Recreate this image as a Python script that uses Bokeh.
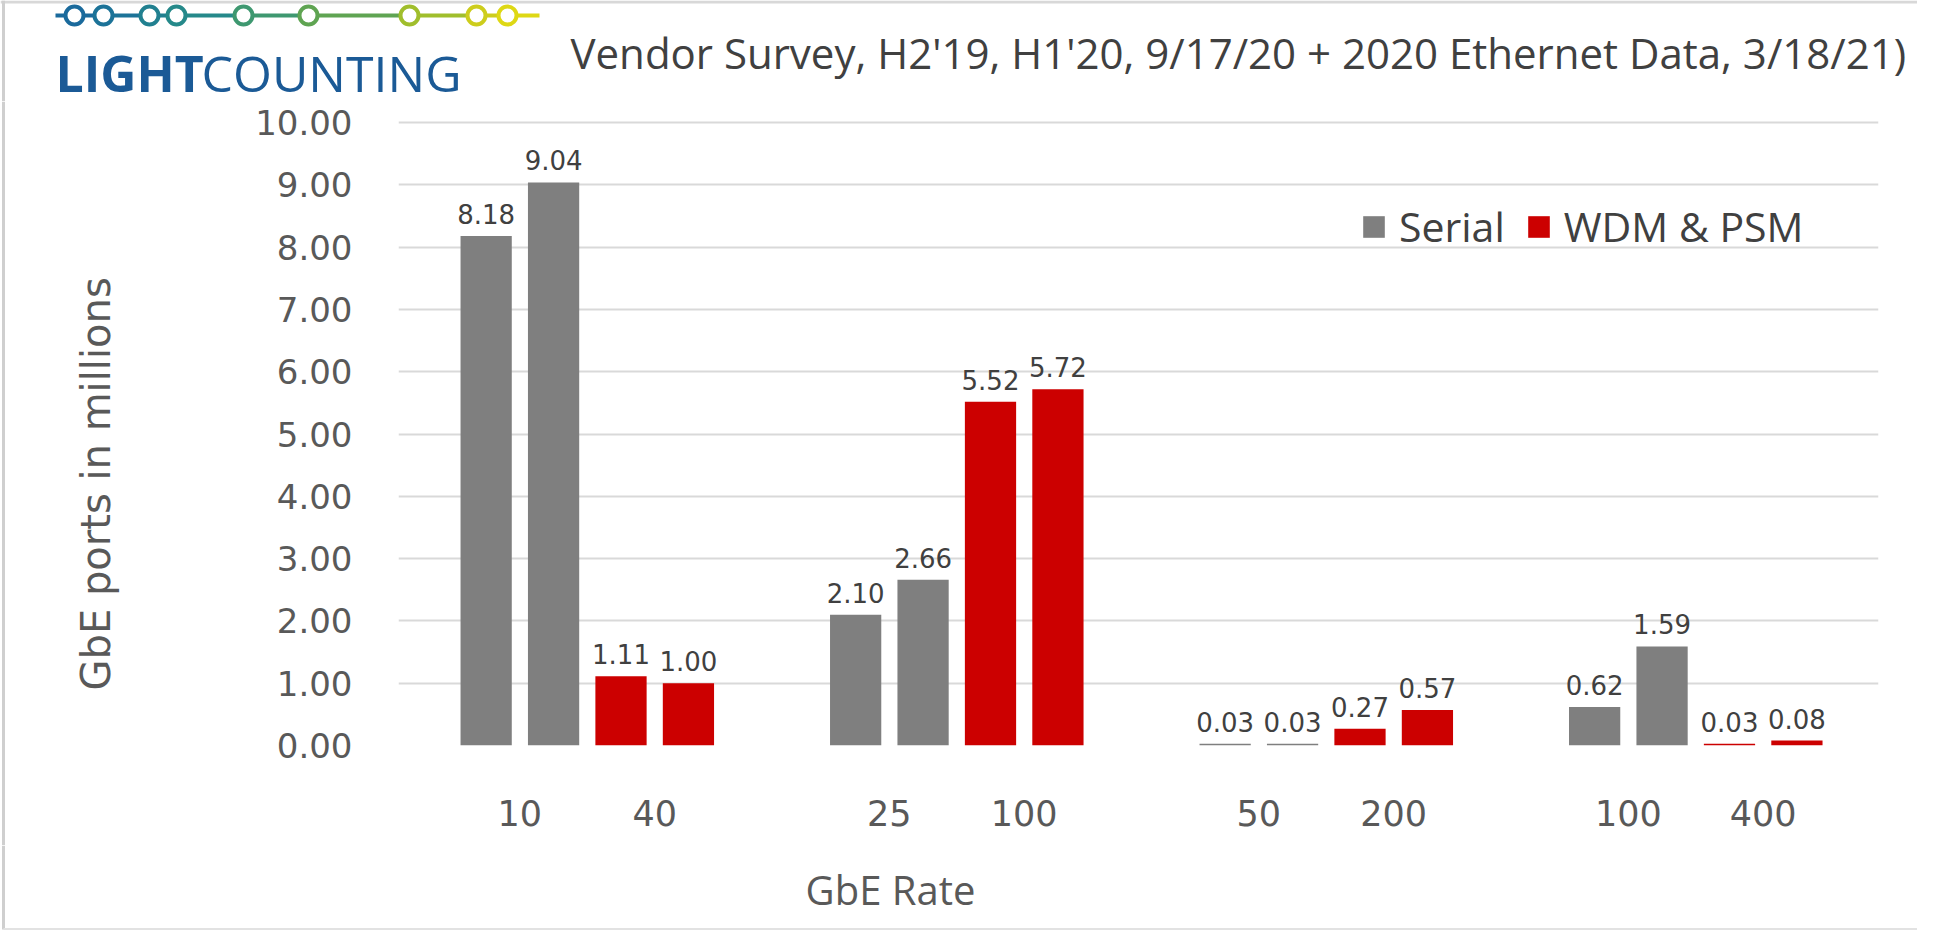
import math
from bokeh.plotting import figure
from bokeh.layouts import column, row
from bokeh.models import (ColumnDataSource, Range1d, FixedTicker, NumeralTickFormatter,
                          Legend, LegendItem, Plot)
from bokeh.core.properties import value
from bokeh.embed import file_html
from bokeh.resources import INLINE

# ---------------- data ----------------
rates = ["10", "40", "25", "100", "50", "200", "100", "400"]
rate_series = ["Serial", "WDM & PSM", "Serial", "WDM & PSM",
               "Serial", "WDM & PSM", "Serial", "WDM & PSM"]
first_bar = [8.18, 1.11, 2.10, 5.52, 0.03, 0.27, 0.62, 0.03]
second_bar = [9.04, 1.00, 2.66, 5.72, 0.03, 0.57, 1.59, 0.08]
series_names = ["Serial", "WDM & PSM"]
series_colors = ["#7F7F7F", "#CC0000"]
y_tick_values = [0, 1, 2, 3, 4, 5, 6, 7, 8, 9, 10]
chart_title = "Vendor Survey,  H2'19, H1'20, 9/17/20 + 2020 Ethernet Data, 3/18/21)"
y_title = "GbE  ports in millions"
x_title = "GbE Rate"
logo_bold = "LIGHT"
logo_regular = "COUNTING"

# ---------------- layout helpers ----------------
PAIR_PITCH = 5.48
CAT_PITCH = 2.0
BAR_W = 0.76
BORDER = "#CFCFCF"
TXT = "#595959"
HAS_FRAME_ALIGN = "frame_align" in Plot.properties()

def no_align(f):
    if HAS_FRAME_ALIGN:
        f.frame_align = False
    return f

def bar_positions(k):
    base = (k // 2) * PAIR_PITCH + (k % 2) * CAT_PITCH
    return base, base + 1.0

def strip(w, h):
    f = figure(width=w, height=h, x_range=Range1d(0, w), y_range=Range1d(h, 0),
               output_backend="svg", toolbar_location=None, x_axis_type=None, y_axis_type=None,
               min_border=0, min_border_left=0, min_border_right=0, min_border_top=0,
               min_border_bottom=0)
    f.grid.visible = False
    f.outline_line_color = None
    f.background_fill_color = "white"
    f.border_fill_color = "white"
    return no_align(f)

src = {name: dict(x=[], top=[], label=[]) for name in series_names}
cat_centers = []
for k, (s, a, b) in enumerate(zip(rate_series, first_bar, second_bar)):
    x0, x1 = bar_positions(k)
    cat_centers.append((x0 + x1) / 2)
    src[s]["x"] += [x0, x1]
    src[s]["top"] += [a, b]
    src[s]["label"] += [f"{a:.2f}", f"{b:.2f}"]

TOTAL_W = 1917
TOP_H, MID_H, BOT_H = 101, 744, 85
LEFT_W = 170

# ---------------- top strip: logo + title ----------------
top = strip(TOTAL_W, TOP_H)
ring_x = [74, 103, 149, 176, 243, 308, 409, 476, 507]
ring_colors = ["#1A6A9C", "#1C7398", "#218090", "#25898A", "#3E9870", "#5FA452",
               "#A0BE2C", "#CDCD1C", "#DED814"]
cy = 15
line_pts = [55] + ring_x + [539]
seg_colors = [ring_colors[0]] + ring_colors
top.segment(x0=line_pts[:-1], y0=[cy] * (len(line_pts) - 1), x1=line_pts[1:],
            y1=[cy] * (len(line_pts) - 1), line_color=seg_colors, line_width=4)
top.scatter(x=ring_x, y=[cy] * len(ring_x), size=18, marker="circle",
            fill_color="white", line_color=ring_colors, line_width=4)
logo_blue = "#1B5A96"
top.text(x=[55], y=[72], text=[logo_bold], text_font=value("Open Sans"),
         text_font_style="bold", text_font_size="50px", text_color=logo_blue,
         text_baseline="middle")
top.text(x=[201], y=[72], text=[logo_regular], text_font=value("Open Sans"),
         text_font_size="50px", text_color=logo_blue, text_baseline="middle")
top.text(x=[570], y=[52], text=[chart_title], text_font=value("Open Sans"),
         text_font_size="42px", text_color="#404040", text_baseline="middle")
top.segment(x0=[0], y0=[1.5], x1=[TOTAL_W], y1=[1.5], line_color="#D8D8D8", line_width=3)
top.segment(x0=[3], y0=[0], x1=[3], y1=[TOP_H], line_color=BORDER, line_width=3)

# ---------------- left strip: y title ----------------
left = strip(LEFT_W, MID_H)
left.text(x=[95], y=[376], text=[y_title], angle=math.pi / 2, text_font=value("DejaVu Sans"),
          text_font_size="40px", text_color=TXT, text_align="center", text_baseline="middle")
left.segment(x0=[3], y0=[0], x1=[3], y1=[MID_H], line_color=BORDER, line_width=3)

# ---------------- main chart ----------------
MAIN_W = TOTAL_W - LEFT_W
p = figure(width=MAIN_W, height=MID_H, x_range=Range1d(-1.30, 20.65), y_range=Range1d(0, 10.05),
           output_backend="svg", toolbar_location=None,
           min_border_left=228, min_border_right=39, min_border_top=18, min_border_bottom=100)
no_align(p)
p.background_fill_color = "white"
p.border_fill_color = "white"
p.outline_line_color = None

p.xaxis.ticker = FixedTicker(ticks=cat_centers)
p.xaxis.major_label_overrides = {c: r for c, r in zip(cat_centers, rates)}
p.xaxis.major_tick_line_color = None
p.xaxis.minor_tick_line_color = None
p.xaxis.axis_line_color = None
p.xaxis.major_label_standoff = 48
p.xaxis.major_label_text_font = "DejaVu Sans"
p.xaxis.major_label_text_font_size = "35px"
p.xaxis.major_label_text_color = TXT

p.yaxis.ticker = FixedTicker(ticks=y_tick_values)
p.yaxis.formatter = NumeralTickFormatter(format="0.00")
p.yaxis.major_tick_line_color = None
p.yaxis.minor_tick_line_color = None
p.yaxis.axis_line_color = None
p.yaxis.major_label_standoff = 40
p.yaxis.major_label_text_font = "DejaVu Sans"
p.yaxis.major_label_text_font_size = "34px"
p.yaxis.major_label_text_color = TXT

p.xgrid.grid_line_color = None
p.ygrid.ticker = FixedTicker(ticks=y_tick_values)
p.ygrid.grid_line_color = "#D9D9D9"
p.ygrid.grid_line_width = 2

renderers = []
for name, color in zip(series_names, series_colors):
    cds = ColumnDataSource(src[name])
    r = p.vbar(x="x", top="top", width=BAR_W, bottom=0, source=cds,
               fill_color=color, line_color=None)
    renderers.append(r)
    p.text(x="x", y="top", text="label", source=cds, text_align="center",
           text_baseline="bottom", y_offset=-12, text_font=value("DejaVu Sans"),
           text_font_size="26px", text_color="#404040")

legend = Legend(items=[LegendItem(label=n, renderers=[r]) for n, r in zip(series_names, renderers)],
                orientation="horizontal", location=(962, 491), border_line_color=None,
                background_fill_alpha=0, padding=0, margin=0, spacing=20, label_standoff=12,
                glyph_width=27, glyph_height=27, label_text_font="Open Sans",
                label_text_font_size="41px", label_text_color="#404040", label_height=30)
p.add_layout(legend)

# ---------------- bottom strip: x title ----------------
bottom = strip(TOTAL_W, BOT_H)
bottom.text(x=[890], y=[44], text=[x_title], text_font=value("Open Sans"),
            text_font_size="40px", text_color=TXT, text_align="center", text_baseline="middle")
bottom.segment(x0=[3], y0=[0], x1=[3], y1=[BOT_H - 1], line_color=BORDER, line_width=3)
bottom.segment(x0=[3], y0=[BOT_H - 1.5], x1=[TOTAL_W], y1=[BOT_H - 1.5], line_color="#E2E2E2",
               line_width=2)

layout = column(top, row(left, p), bottom)
open("out.html", "w").write(file_html(layout, INLINE))
